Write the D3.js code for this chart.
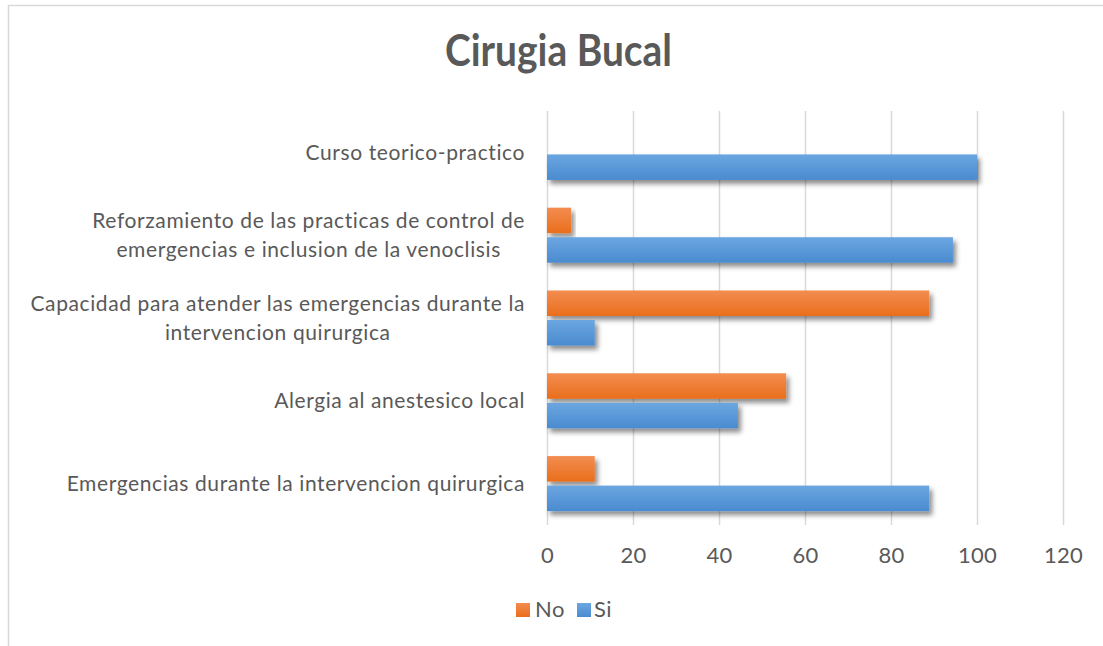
<!DOCTYPE html>
<html>
<head>
<meta charset="utf-8">
<script src="https://cdn.jsdelivr.net/npm/d3@7"></script>
<style>
  body { margin: 0; background: #fff; }
  text { font-family: Lato, "Liberation Sans", sans-serif; fill: #595959; }
</style>
</head>
<body>
<div id="chart"></div>
<script>
// data
var categories = [
  "Curso teorico-practico",
  "Reforzamiento de las practicas de control de emergencias e inclusion de la venoclisis",
  "Capacidad para atender las emergencias durante la intervencion quirurgica",
  "Alergia al anestesico local",
  "Emergencias durante la intervencion quirurgica"
];
var seriesNames = ["No", "Si"];
var noValues = [0, 5.6, 88.9, 55.6, 11.1];
var siValues = [100, 94.4, 11.1, 44.4, 88.9];
var xTicks = [0, 20, 40, 60, 80, 100, 120];
var title = "Cirugia Bucal";

var colors = {
  No: ["#f28d50", "#ea6e1c"],
  Si: ["#6ba6e0", "#4a8bd0"]
};

var W = 1103, H = 646;
var plot = {left: 547, right: 1063, top: 111, bottom: 525};

var svg = d3.select("#chart")
  .append("svg")
    .attr("width", W)
    .attr("height", H);

var defs = svg.append("defs");
seriesNames.forEach(function(s) {
  var g = defs.append("linearGradient")
    .attr("id", "grad" + s)
    .attr("x1", 0).attr("y1", 0).attr("x2", 0).attr("y2", 1);
  g.append("stop").attr("offset", "0%").attr("stop-color", colors[s][0]);
  g.append("stop").attr("offset", "100%").attr("stop-color", colors[s][1]);
});
defs.append("filter")
  .attr("id", "shadow")
  .attr("x", "-10%").attr("y", "-30%").attr("width", "130%").attr("height", "180%")
  .append("feDropShadow")
    .attr("dx", 3).attr("dy", 4)
    .attr("stdDeviation", 2.5)
    .attr("flood-color", "#000")
    .attr("flood-opacity", 0.45);

// chart border
svg.append("rect")
  .attr("x", 8.5).attr("y", 5.5)
  .attr("width", W + 10).attr("height", H + 10)
  .attr("fill", "none")
  .attr("stroke", "#d9d9d9")
  .attr("stroke-width", 1.5);

// title (bold face squeezed to the original width)
svg.append("text")
  .attr("x", 445).attr("y", 66)
  .attr("textLength", 227)
  .attr("lengthAdjust", "spacingAndGlyphs")
  .style("font-size", "43px")
  .style("font-weight", "bold")
  .text(title);

var x = d3.scaleLinear()
  .domain([0, 120])
  .range([plot.left, plot.right]);

var y0 = d3.scaleBand()
  .domain(categories)
  .range([plot.top, plot.bottom]);

var y1 = d3.scaleBand()
  .domain(seriesNames)
  .range([0, y0.bandwidth()])
  .paddingInner(0.136)
  .paddingOuter(0.47);

// x axis with gridlines
var xAxis = svg.append("g")
  .attr("transform", "translate(0," + plot.bottom + ")")
  .call(d3.axisBottom(x)
    .tickValues(xTicks)
    .tickSize(-(plot.bottom - plot.top))
    .tickPadding(22));
xAxis.select(".domain").remove();
xAxis.selectAll(".tick line")
  .attr("stroke", "#d9d9d9")
  .attr("stroke-width", 1.5);
xAxis.selectAll(".tick text")
  .attr("fill", "#595959")
  .style("font-size", "22px")
  .style("letter-spacing", "0.3px");

// bars
var rows = categories.map(function(c, i) {
  return {category: c, values: [
    {key: "No", value: noValues[i]},
    {key: "Si", value: siValues[i]}
  ]};
});

var groups = svg.append("g")
  .selectAll("g")
  .data(rows)
  .enter().append("g")
    .attr("transform", function(d) { return "translate(0," + y0(d.category) + ")"; });

groups.selectAll("rect")
  .data(function(d) { return d.values.filter(function(v) { return v.value > 0; }); })
  .enter().append("rect")
    .attr("x", x(0))
    .attr("y", function(d) { return y1(d.key); })
    .attr("width", function(d) { return x(d.value) - x(0); })
    .attr("height", y1.bandwidth())
    .attr("fill", function(d) { return "url(#grad" + d.key + ")"; })
    .attr("filter", "url(#shadow)");

// category labels, wrapped and centred line by line
var labelRight = 525, wrapWidth = 505, lineHeight = 29;
var labels = svg.append("g")
  .selectAll("text")
  .data(categories)
  .enter().append("text")
    .style("font-size", "21px")
    .style("letter-spacing", "0.6px");

labels.each(function(c) {
  var el = d3.select(this);
  var words = c.split(" ");
  var lines = [], line = [];
  var probe = el.append("tspan");
  words.forEach(function(w) {
    var test = line.concat([w]).join(" ");
    probe.text(test);
    if (line.length && probe.node().getComputedTextLength() > wrapWidth) {
      lines.push(line.join(" "));
      line = [w];
    } else {
      line.push(w);
    }
  });
  lines.push(line.join(" "));
  var widest = 0;
  lines.forEach(function(l) {
    probe.text(l);
    widest = Math.max(widest, probe.node().getComputedTextLength());
  });
  probe.remove();
  var cx = labelRight - widest / 2;
  var cy = y0(c) + y0.bandwidth() / 2 - (lines.length - 1) * lineHeight / 2;
  el.attr("text-anchor", "middle");
  lines.forEach(function(l, i) {
    el.append("tspan")
      .attr("x", cx)
      .attr("y", cy + i * lineHeight)
      .attr("dy", "0.35em")
      .text(l);
  });
});

// legend
var legendPos = [{x: 516, tx: 535}, {x: 577, tx: 594}];
var legend = svg.append("g")
  .selectAll("g")
  .data(seriesNames)
  .enter().append("g");
legend.append("rect")
  .attr("x", function(d, i) { return legendPos[i].x; })
  .attr("y", 603)
  .attr("width", 14).attr("height", 14)
  .attr("fill", function(d) { return "url(#grad" + d + ")"; });
legend.append("text")
  .attr("x", function(d, i) { return legendPos[i].tx; })
  .attr("y", 617)
  .style("font-size", "22px")
  .style("letter-spacing", "0.5px")
  .text(function(d) { return d; });
</script>
</body>
</html>
